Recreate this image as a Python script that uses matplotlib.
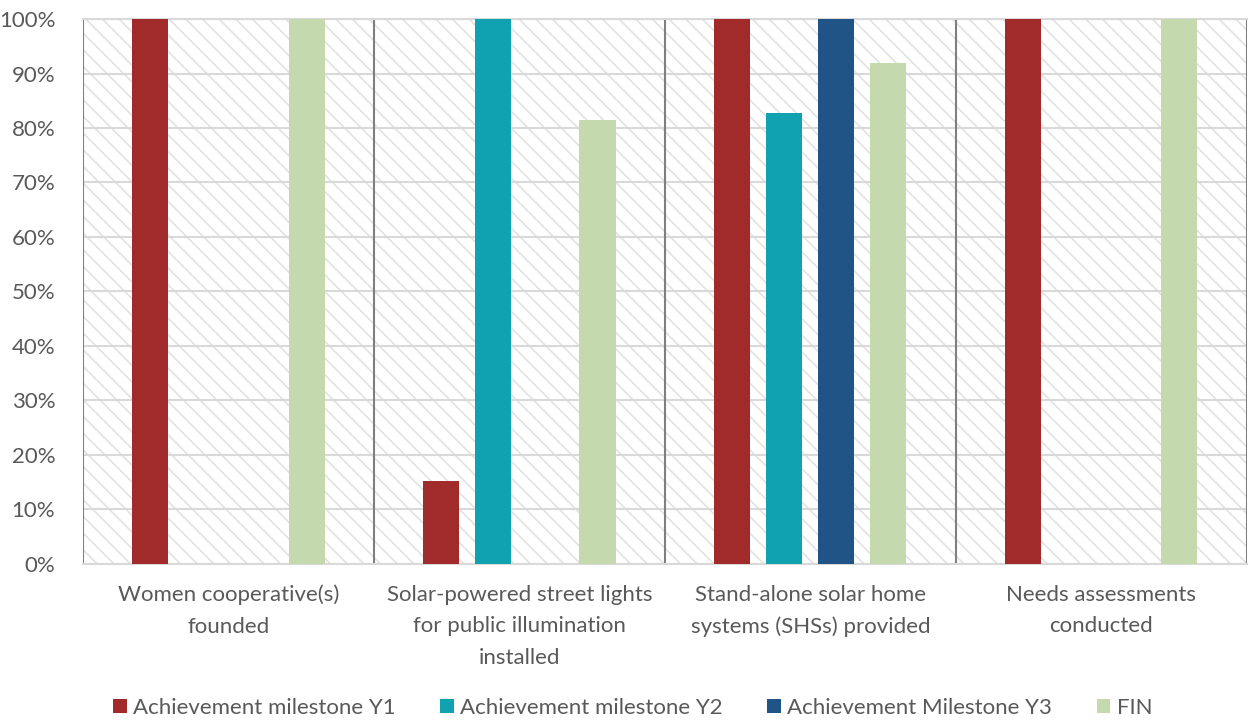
import matplotlib
matplotlib.use("Agg")
import matplotlib.pyplot as plt
import numpy as np
from matplotlib.patches import Rectangle

categories = [
    "Women cooperative(s)\nfounded",
    "Solar-powered street lights\nfor public illumination\ninstalled",
    "Stand-alone solar home\nsystems (SHSs) provided",
    "Needs assessments\nconducted",
]
series_names = ["Achievement milestone Y1", "Achievement milestone Y2",
                "Achievement Milestone Y3", "FIN"]
y1 = [100, 15.3, 100, 100]
y2 = [0, 100, 82.8, 0]
y3 = [0, 0, 100, 0]
fin = [100, 81.4, 91.9, 100]
colors = ["#A12B2B", "#10A2B0", "#215486", "#C5D9AE"]

plt.rcParams["font.family"] = ["Lato", "DejaVu Sans"]
plt.rcParams["hatch.linewidth"] = 1.2
fig = plt.figure(figsize=(12.48, 7.2), dpi=100)
ax = fig.add_axes([0.0665, 0.2167, 0.9325, 0.7569])

# hatched plot background
ax.add_patch(Rectangle((0, 0), 1, 1, transform=ax.transAxes, facecolor="white",
                       edgecolor="#e2e2e2", hatch="\\\\", linewidth=0, zorder=0))

x = np.arange(len(categories))
width = 0.124
step = 0.179
for i, (vals, name) in enumerate(zip([y1, y2, y3, fin], series_names)):
    ax.bar(x + (i - 1.5) * step, np.array(vals) / 100, width, color=colors[i],
           label=name, zorder=3)

ax.set_xlim(-0.5, len(categories) - 0.5)
ax.set_ylim(0, 1)
ax.set_yticks(np.arange(0, 1.01, 0.1))
ax.set_yticklabels([f"{int(round(v * 100))}%" for v in np.arange(0, 1.01, 0.1)])
ax.yaxis.grid(True, color="#d9d9d9", linewidth=1.5, zorder=1)
ax.set_axisbelow(True)

# separators between categories
for b in np.arange(-0.5, len(categories), 1.0):
    ax.axvline(b, color="#7f7f7f", linewidth=1.5, zorder=2)

ax.set_xticks(x)
ax.set_xticklabels(categories, linespacing=1.72)
ax.tick_params(axis="both", length=0, labelsize=16, labelcolor="#595959")
ax.tick_params(axis="x", pad=15)
ax.tick_params(axis="y", pad=20)
for s in ["left", "right"]:
    ax.spines[s].set_visible(False)
ax.spines["top"].set_color("#d9d9d9")
ax.spines["bottom"].set_color("#d9d9d9")
ax.spines["top"].set_linewidth(1.5)
ax.spines["bottom"].set_linewidth(1.5)

leg = fig.legend(loc="center", bbox_to_anchor=(0.507, 0.017), ncol=4, frameon=False,
                 fontsize=16, handlelength=0.6, handleheight=0.6, handletextpad=0.3,
                 columnspacing=2.0)
for t in leg.get_texts():
    t.set_color("#595959")

fig.savefig("out.png", dpi=100)
